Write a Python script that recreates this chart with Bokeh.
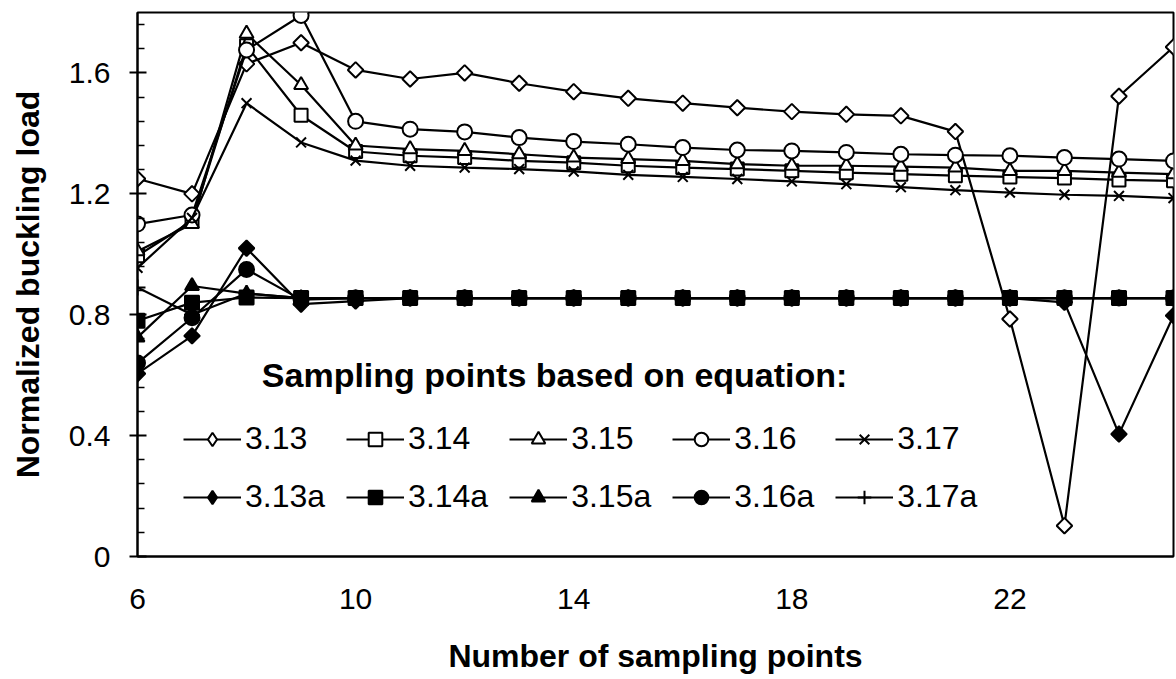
import math
from bokeh.plotting import figure
from bokeh.models import Legend, LegendItem, Label, FixedTicker, Range1d
from bokeh.embed import file_html
from bokeh.resources import INLINE

# ---------------- data ----------------
n_points = [6, 7, 8, 9, 10, 11, 12, 13, 14, 15, 16, 17, 18, 19, 20, 21, 22, 23, 24, 25]

s313 = [1.25, 1.20, 1.63, 1.70, 1.61, 1.58, 1.60, 1.566, 1.538, 1.516,
        1.50, 1.485, 1.472, 1.463, 1.458, 1.406, 0.786, 0.102, 1.523, 1.686]
s314 = [0.995, 1.11, 1.69, 1.46, 1.34, 1.326, 1.320, 1.309, 1.303, 1.293,
        1.287, 1.282, 1.276, 1.270, 1.265, 1.260, 1.256, 1.252, 1.246, 1.243]
s315 = [1.01, 1.10, 1.73, 1.56, 1.36, 1.348, 1.342, 1.331, 1.320, 1.315,
        1.309, 1.298, 1.293, 1.293, 1.290, 1.287, 1.276, 1.276, 1.270, 1.265]
s316 = [1.10, 1.13, 1.676, 1.79, 1.44, 1.414, 1.405, 1.386, 1.373, 1.364,
        1.353, 1.345, 1.342, 1.337, 1.331, 1.328, 1.326, 1.320, 1.315, 1.309]
s317 = [0.955, 1.12, 1.50, 1.37, 1.31, 1.293, 1.287, 1.282, 1.274, 1.263,
        1.256, 1.249, 1.241, 1.232, 1.222, 1.212, 1.204, 1.197, 1.193, 1.186]

s313a = [0.605, 0.73, 1.02, 0.835, 0.845, 0.855, 0.855, 0.855, 0.855, 0.855,
         0.855, 0.855, 0.855, 0.855, 0.855, 0.855, 0.855, 0.841, 0.405, 0.797]
s314a = [0.78, 0.84, 0.857, 0.855, 0.855, 0.855, 0.855, 0.855, 0.855, 0.855,
         0.855, 0.855, 0.855, 0.855, 0.855, 0.855, 0.855, 0.855, 0.855, 0.855]
s315a = [0.725, 0.895, 0.87, 0.855, 0.855, 0.855, 0.855, 0.855, 0.855, 0.855,
         0.855, 0.855, 0.855, 0.855, 0.855, 0.855, 0.855, 0.855, 0.855, 0.855]
s316a = [0.64, 0.79, 0.95, 0.85, 0.855, 0.855, 0.855, 0.855, 0.855, 0.855,
         0.855, 0.855, 0.855, 0.855, 0.855, 0.855, 0.855, 0.855, 0.855, 0.855]
s317a = [0.89, 0.80, 0.87, 0.855, 0.855, 0.855, 0.855, 0.855, 0.855, 0.855,
         0.855, 0.855, 0.855, 0.855, 0.855, 0.855, 0.855, 0.855, 0.855, 0.855]

series_names = ["3.13", "3.14", "3.15", "3.16", "3.17",
                "3.13a", "3.14a", "3.15a", "3.16a", "3.17a"]

x_ticks = [6, 10, 14, 18, 22]
x_tick_labels = ["6", "10", "14", "18", "22"]
y_ticks = [0.0, 0.4, 0.8, 1.2, 1.6]
y_tick_labels = ["0", "0.4", "0.8", "1.2", "1.6"]
y_minor_ticks = [0.08, 0.16, 0.24, 0.32, 0.48, 0.56, 0.64, 0.72, 0.88, 0.96,
                 1.04, 1.12, 1.28, 1.36, 1.44, 1.52, 1.68, 1.76]

legend_title = "Sampling points based on equation:"
x_title = "Number of sampling points"
y_title = "Normalized buckling load"

# ---------------- figure ----------------
FONT = "Liberation Sans"

p = figure(width=1176, height=679, output_backend="svg", toolbar_location=None,
           x_range=Range1d(6, 25), y_range=Range1d(0, 1.8),
           min_border_left=137, min_border_right=3, min_border_top=12,
           min_border_bottom=123)

p.background_fill_color = "white"
p.border_fill_color = "white"
p.outline_line_color = "black"
p.outline_line_width = 2
p.xgrid.visible = False
p.ygrid.visible = False

# y axis
p.yaxis.ticker = FixedTicker(ticks=y_ticks, minor_ticks=y_minor_ticks)
p.yaxis.major_label_overrides = {t: l for t, l in zip(y_ticks, y_tick_labels)}
p.yaxis.axis_line_width = 2
p.yaxis.axis_line_color = "black"
p.yaxis.major_tick_in = 9
p.yaxis.major_tick_out = 8
p.yaxis.major_tick_line_width = 2
p.yaxis.minor_tick_in = 7
p.yaxis.minor_tick_out = 0
p.yaxis.minor_tick_line_width = 1.5
p.yaxis.major_label_standoff = 19
p.yaxis.major_label_text_font = FONT
p.yaxis.major_label_text_font_size = "30px"
p.yaxis.major_label_text_color = "black"
p.yaxis.axis_label = y_title
p.yaxis.axis_label_text_font = FONT
p.yaxis.axis_label_text_font_size = "32px"
p.yaxis.axis_label_text_font_style = "bold"
p.yaxis.axis_label_text_color = "black"
p.yaxis.axis_label_standoff = 20

# x axis
p.xaxis.ticker = FixedTicker(ticks=x_ticks, minor_ticks=[])
p.xaxis.major_label_overrides = {t: l for t, l in zip(x_ticks, x_tick_labels)}
p.xaxis.axis_line_width = 2
p.xaxis.axis_line_color = "black"
p.xaxis.major_tick_in = 0
p.xaxis.major_tick_out = 0
p.xaxis.minor_tick_in = 0
p.xaxis.minor_tick_out = 0
p.xaxis.major_label_standoff = 32
p.xaxis.major_label_text_font = FONT
p.xaxis.major_label_text_font_size = "30px"
p.xaxis.major_label_text_color = "black"
p.xaxis.axis_label = x_title
p.xaxis.axis_label_text_font = FONT
p.xaxis.axis_label_text_font_size = "32px"
p.xaxis.axis_label_text_font_style = "bold"
p.xaxis.axis_label_text_color = "black"
p.xaxis.axis_label_standoff = 26

# ---------------- series ----------------
# (values, marker, fill, size, angle, legend marker)
styles = [
    (s313, "square", "white", 11, math.pi / 4, "diamond"),
    (s314, "square", "white", 13, 0.0, None),
    (s315, "triangle", "white", 14, 0.0, None),
    (s316, "circle", "white", 15, 0.0, None),
    (s317, "x", "white", 14, 0.0, None),
    (s313a, "square", "black", 11, math.pi / 4, "diamond"),
    (s314a, "square", "black", 14, 0.0, None),
    (s315a, "triangle", "black", 14, 0.0, None),
    (s316a, "circle", "black", 15, 0.0, None),
    (s317a, "cross", "black", 16, 0.0, None),
]

nan = float("nan")
items = []
for name, (vals, marker, fill, size, ang, leg_marker) in zip(series_names, styles):
    ln = p.line(n_points, vals, line_color="black", line_width=2.2)
    sc = p.scatter(n_points, vals, marker=marker, size=size, angle=ang,
                   fill_color=fill, line_color="black", line_width=2)
    if leg_marker is None:
        items.append(LegendItem(label=name, renderers=[ln, sc]))
    else:
        # legend-only glyph: upright diamond symbol (nothing drawn in the plot)
        lg = p.scatter([nan], [nan], marker=leg_marker, size=size,
                       fill_color=fill, line_color="black", line_width=2)
        items.append(LegendItem(label=name, renderers=[ln, lg]))

legend = Legend(items=items, orientation="horizontal", nrows=2,
                location=(46, 41), padding=0, margin=0, spacing=21,
                glyph_width=58, glyph_height=34, label_height=36,
                label_standoff=4,
                label_text_font=FONT, label_text_font_size="32px",
                label_text_color="black",
                border_line_alpha=0, background_fill_alpha=0)
p.add_layout(legend)

title_label = Label(x=13.65, y=0.60, text=legend_title,
                    text_align="center", text_baseline="alphabetic",
                    text_font=FONT, text_font_size="34px",
                    text_font_style="bold", text_color="black")
p.add_layout(title_label)

open("out.html", "w").write(file_html(p, INLINE))
